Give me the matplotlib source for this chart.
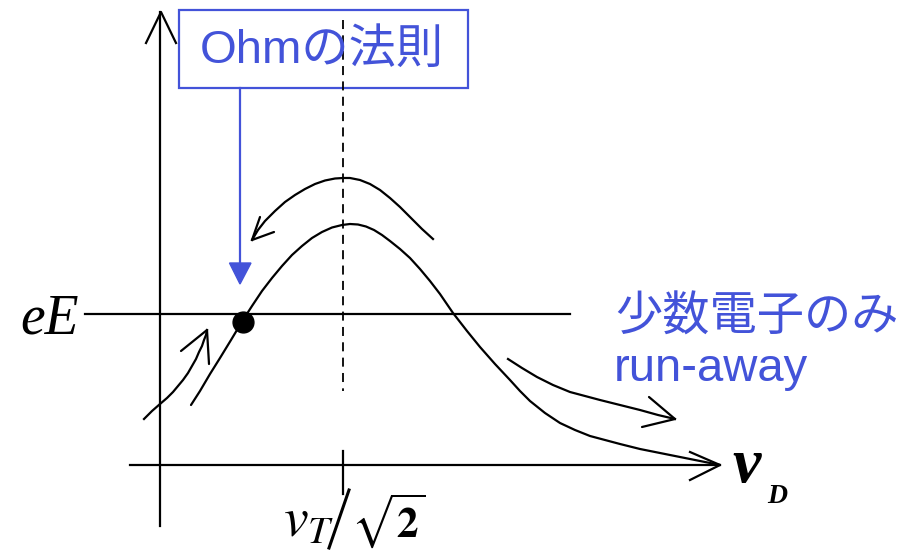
import matplotlib
matplotlib.use("Agg")
import matplotlib.pyplot as plt
from matplotlib.patches import Rectangle, Polygon

plt.rcParams["mathtext.fontset"] = "stix"

BLUE = "#4353d9"
INK = "black"

# friction-force curve F(v_D), pixel-space sketch coordinates
curve_x = [191, 200, 210, 220, 231, 243, 252, 262, 272, 282, 292, 302, 312, 322, 332, 342,
           350, 358, 366, 374, 382, 390, 400, 410, 420, 430, 440, 453, 467, 480, 495, 510,
           520, 530, 545, 560, 575, 590, 605, 620, 640, 660, 690, 720]
curve_y = [405, 391, 374, 358, 340, 320, 306, 291, 278, 266, 255, 246, 238, 232, 227.5, 225,
           224, 224.5, 226.5, 230, 235, 241, 249, 258, 269, 281, 294, 313, 331, 347, 364, 380,
           391, 401, 413, 423, 430, 436, 440, 444, 449, 453, 459, 465]

# flow arrows along the curve
top_arrow_x = [433, 422, 411, 400, 390, 380, 370, 360, 350, 343, 335, 325, 315, 305, 295,
               285, 275, 265, 258, 252]
top_arrow_y = [239, 229, 218, 207, 198, 190, 184, 180, 178, 178, 178.5, 180.5, 184, 189, 195,
               202, 211, 221, 230, 240]
top_head = [(260, 217), (274, 232)]

left_arrow_x = [144, 152, 160, 167, 173, 178, 183, 188, 192, 196, 199, 202, 204, 206, 207]
left_arrow_y = [419, 411, 404, 398, 392, 386, 380, 373, 366, 359, 352, 346, 340, 335, 330]
left_head = [(181, 351), (209, 364)]

right_arrow_x = [508, 522, 537, 553, 570, 585, 600, 620, 640, 658, 675]
right_arrow_y = [359, 368, 377, 385, 392, 396, 400, 405, 410, 415, 419]
right_head = [(649, 397), (642, 427)]

# axes frame
origin = (160, 465)
y_axis = (526, 12)
x_axis = (130, 720)
eE_level = 314
eE_span = (85, 570)
v_peak = 343
ohm_point = (243, 322)

fig = plt.figure(figsize=(9.11, 5.51), dpi=100)
ax = fig.add_axes([0, 0, 1, 1])
ax.set_xlim(0, 911)
ax.set_ylim(551, 0)
ax.axis("off")

lw = 1.6
# vertical axis with open arrowhead
ax.plot([origin[0], origin[0]], y_axis, color=INK, lw=lw)
ax.plot([146, origin[0] + 1, 176], [43, y_axis[1], 43], color=INK, lw=lw)
# horizontal axis with open arrowhead
ax.plot(x_axis, [origin[1], origin[1]], color=INK, lw=lw)
ax.plot([690, x_axis[1], 690], [452, origin[1], 480], color=INK, lw=lw)
# tick at v_T/sqrt(2)
ax.plot([v_peak, v_peak], [451, 494], color=INK, lw=lw)
# dashed marker at the peak
ax.plot([v_peak, v_peak], [20, 391], color=INK, lw=1.3, dashes=(5, 3.5))
# eE level
ax.plot(eE_span, [eE_level, eE_level], color=INK, lw=lw)

# main curve
ax.plot(curve_x, curve_y, color=INK, lw=lw, solid_capstyle="round", solid_joinstyle="round")
ax.plot(*ohm_point, "o", color=INK, ms=15)

for xs, ys, head in [(top_arrow_x, top_arrow_y, top_head),
                     (left_arrow_x, left_arrow_y, left_head),
                     (right_arrow_x, right_arrow_y, right_head)]:
    ax.plot(xs, ys, color=INK, lw=lw, solid_joinstyle="round")
    for hx, hy in head:
        ax.plot([xs[-1], hx], [ys[-1], hy], color=INK, lw=lw, solid_capstyle="round")

# Ohm's law callout
ax.add_patch(Rectangle((179, 10), 289, 78, fill=False, edgecolor=BLUE, lw=1.6))
ax.text(322, 63, "Ohmの法則", color=BLUE, fontsize=34, ha="center", va="baseline",
        family=["Liberation Sans", "Noto Sans CJK JP"])
ax.plot([240, 240], [88, 266], color=BLUE, lw=1.6)
ax.add_patch(Polygon([(229.5, 263), (251, 263), (240, 284)], closed=True, color=BLUE))

# run-away note
ax.text(615, 331, "少数電子のみ", color=BLUE, fontsize=34, ha="left", va="baseline",
        family=["Noto Sans CJK JP", "DejaVu Sans"])
ax.text(614, 381, "run-away", color=BLUE, fontsize=34, ha="left", va="baseline",
        family=["Liberation Sans", "DejaVu Sans"])

# axis labels
ax.text(20, 333, "eE", fontsize=40, family="Liberation Serif", style="italic",
        ha="left", va="baseline")
ax.text(732, 482, "v", fontsize=46, family="Liberation Serif", style="italic",
        weight="bold", ha="left", va="baseline")
ax.text(767, 503, "D", fontsize=20, family="Liberation Serif", style="italic",
        weight="bold", ha="left", va="baseline")

ax.text(283, 537, r"$v_{T}$", fontsize=40, ha="left", va="baseline")
ax.plot([349, 329], [490, 548], color=INK, lw=2.2)
ax.text(351, 537, r"$\sqrt{\mathbf{2}}$", fontsize=31, ha="left", va="baseline")

fig.savefig("out.png", dpi=100)
